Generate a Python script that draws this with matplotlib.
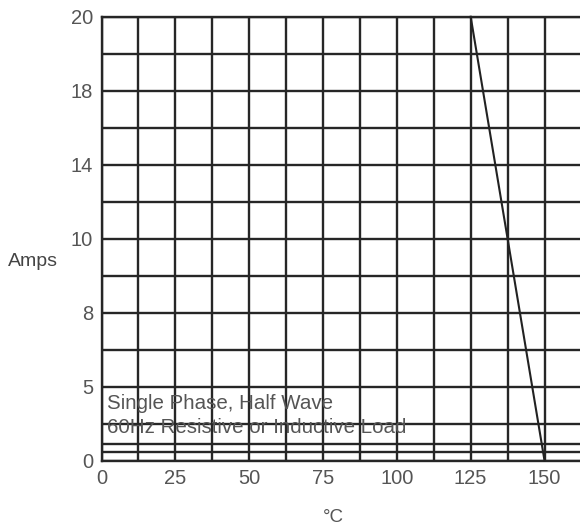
import numpy as np
import matplotlib
matplotlib.use("Agg")
import matplotlib.pyplot as plt
from matplotlib.ticker import FixedLocator, NullFormatter

# ---- data ----
temp_c = [125, 150]          # derating curve, case temperature (°C)
amps = [20, 0]               # output current (A)
x_ticks = [0, 25, 50, 75, 100, 125, 150]
y_tick_values = [0, 5, 8, 10, 14, 18, 20]
y_tick_labels = ["0", "5", "8", "10", "14", "18", "20"]
note_lines = ["Single Phase, Half Wave", "60Hz Resistive or Inductive Load"]

# the printed y-axis is non-linear: each labelled value sits on an evenly
# spaced grid row (rows 0, 2, 4, ..., 12)
y_rows = [0, 2, 4, 6, 8, 10, 12]
minor_rows = [0.22, 0.45, 1, 3, 5, 7, 9, 11]


def fwd(v):
    return np.interp(v, y_tick_values, y_rows)


def inv(r):
    return np.interp(r, y_rows, y_tick_values)


plt.rcParams["font.family"] = ["Liberation Sans", "DejaVu Sans"]

fig = plt.figure(figsize=(5.8, 5.28), dpi=100)
W, H = 580, 528
left_px, right_px, top_px, bot_px = 101.5, 580, 16.7, 460.5
ax = fig.add_axes([left_px / W, 1 - bot_px / H,
                   (right_px - left_px) / W, (bot_px - top_px) / H])

x_per_px = 150 / (544.5 - left_px)
ax.set_xlim(0, (right_px - left_px) * x_per_px)
ax.set_yscale("function", functions=(fwd, inv))
ax.set_ylim(0, 20)

grid_col = "#262626"
ax.set_xticks(x_ticks)
ax.xaxis.set_minor_locator(FixedLocator(np.arange(12.5, 160, 25)))
ax.set_yticks(y_tick_values)
ax.set_yticklabels(y_tick_labels)
ax.yaxis.set_minor_locator(FixedLocator(inv(np.array(minor_rows))))
ax.yaxis.set_minor_formatter(NullFormatter())

ax.grid(True, which="both", color=grid_col, linewidth=1.7)
ax.set_axisbelow(True)
ax.tick_params(which="both", length=0)
ax.tick_params(axis="both", labelsize=14.5, labelcolor="#555555", pad=6)

ax.spines["right"].set_visible(False)
for s in ["left", "bottom", "top"]:
    ax.spines[s].set_color(grid_col)
    ax.spines[s].set_linewidth(1.7)

ax.plot(temp_c, amps, color="#222222", linewidth=1.5, clip_on=False, zorder=3)

ax.text(2, inv(1.55), note_lines[0], fontsize=14.8, color="#555555",
        va="center", ha="left")
ax.text(2, inv(0.9), note_lines[1], fontsize=14.8, color="#555555",
        va="center", ha="left")

fig.text(8 / W, 1 - 262 / H, "Amps", fontsize=14, color="#444444",
         ha="left", va="center")
fig.text(333 / W, 1 - 517 / H, "°C", fontsize=13.5, color="#555555",
         ha="center", va="center")

fig.savefig("out.png", dpi=100)
